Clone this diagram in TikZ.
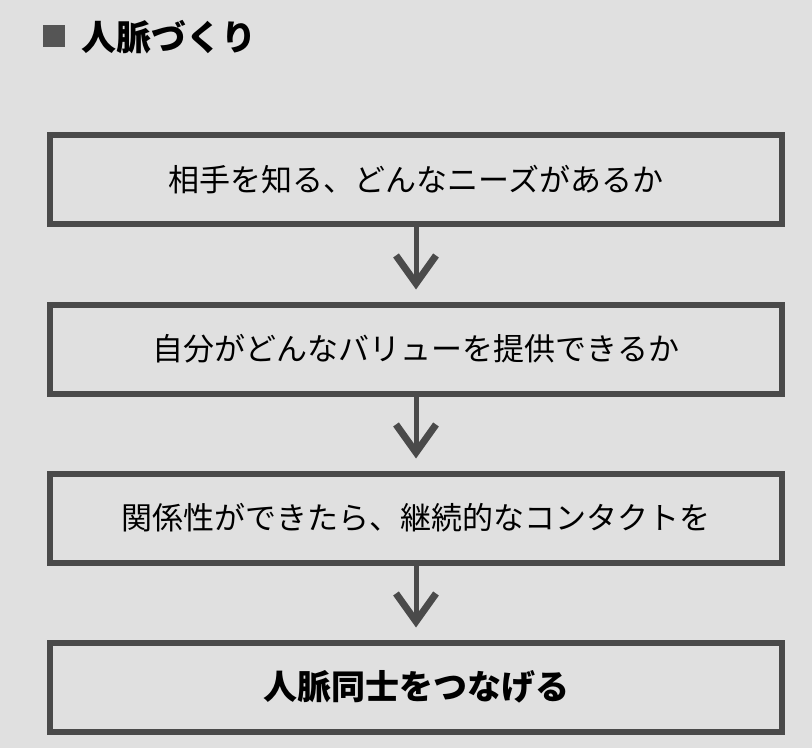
\documentclass[tikz,border=0pt]{standalone}
\usepackage{fontspec}
\newfontfamily\jpfont{Noto Sans CJK JP}
\usepackage{tikz}
\usetikzlibrary{arrows.meta}
\definecolor{nwbg}{RGB}{224,224,224}
\definecolor{nwline}{RGB}{74,74,74}
\definecolor{nwmark}{RGB}{85,85,85}

\tikzset{
  stepbox/.style={draw=nwline, line width=4.5pt, minimum width=549pt,
    minimum height=66.75pt, inner sep=0pt, text=black,
    font=\jpfont\fontsize{23.25}{28}\selectfont},
  lastbox/.style={stepbox, font=\jpfont\bfseries\fontsize{25.5}{30}\selectfont},
  flowarrow/.style={draw=nwline, line width=3.75pt, shorten >=9pt,
    -{Straight Barb[length=21pt, width=30pt, line width=5.25pt]}}
}

\begin{document}
\begin{tikzpicture}[x=0.75pt, y=-0.75pt]
% background
\fill[nwbg] (0,0) rectangle (812,748);

% title
\fill[nwmark] (43,25) rectangle (65,47);
\node[anchor=west, font=\jpfont\bfseries\fontsize{26.25}{30}\selectfont, inner sep=0pt] (title) at (81,37) {人脈づくり};

% steps
\node[stepbox] (know)    at (416,180) {相手を知る、どんなニーズがあるか};
\node[stepbox] (value)   at (416,349) {自分がどんなバリューを提供できるか};
\node[stepbox] (contact) at (416,518) {関係性ができたら、継続的なコンタクトを};
\node[lastbox] (connect) at (416,687) {人脈同士をつなげる};

% arrows
\draw[flowarrow] (know.south) -- (value.north);
\draw[flowarrow] (value.south) -- (contact.north);
\draw[flowarrow] (contact.south) -- (connect.north);
\end{tikzpicture}
\end{document}
